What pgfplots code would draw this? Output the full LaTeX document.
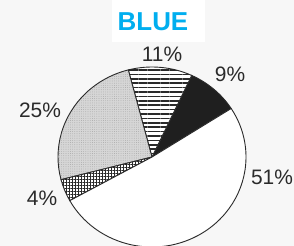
\documentclass[border=0pt]{standalone}
\usepackage{pgfplots}
\pgfplotsset{compat=1.18}
\usetikzlibrary{patterns,patterns.meta}
\usepackage{fontspec}
\setmainfont{Liberation Sans}
\definecolor{titleblue}{HTML}{00AEEF}
\definecolor{ink}{HTML}{2A2A2A}
% slice values (percent), counter-clockwise from the 51% / 9% boundary
\def\vBlack{9}\def\vLines{11}\def\vStip{25}\def\vGrid{4}\def\vWhite{51}
\pgfmathsetmacro\aA{32.6}
\pgfmathsetmacro\aB{\aA+3.6*\vBlack}
\pgfmathsetmacro\aC{\aB+3.6*\vLines}
\pgfmathsetmacro\aD{\aC+3.6*\vStip}
\pgfmathsetmacro\aE{\aD+3.6*\vGrid}
\pgfmathsetmacro\aF{\aE+3.6*\vWhite}
\newcommand\slice[3]{\path[#3] (axis cs:0,0) -- ++(#1:94bp and 90bp) arc[start angle=#1, end angle=#2, x radius=94bp, y radius=90bp] -- cycle;}
\begin{document}
\begin{tikzpicture}
\path[use as bounding box] (0,0) rectangle (294bp,246bp);
\fill[black!3] (0,0) rectangle (294bp,246bp);
\fill[white] (112bp,204bp) rectangle (205bp,246bp);
\clip (0,0) rectangle (294bp,246bp);
\begin{axis}[hide axis, x=1bp, y=1bp, xmin=-100, xmax=100, ymin=-100, ymax=100,
  anchor=origin, at={(152bp,89bp)}, clip=false]
\slice{\aA}{\aB}{fill=black!88, draw=ink, line width=0.9bp}
\slice{\aB}{\aC}{fill=white}
\slice{\aB}{\aC}{pattern={Lines[angle=0, distance=4.4bp, line width=1.6bp]}, pattern color=ink}
\slice{\aB}{\aC}{draw=ink, line width=0.9bp}
\slice{\aC}{\aD}{fill=black!16}
\slice{\aC}{\aD}{pattern={Dots[distance=2.2bp, radius=0.35bp]}, pattern color=black!42}
\slice{\aC}{\aD}{draw=ink, line width=0.9bp}
\slice{\aD}{\aE}{fill=white}
\slice{\aD}{\aE}{pattern={Hatch[angle=0, distance=3bp, line width=1bp]}, pattern color=ink}
\slice{\aD}{\aE}{draw=ink, line width=0.9bp}
\slice{\aE}{\aF}{fill=white, draw=ink, line width=0.9bp}
\node[text=ink, font=\fontsize{21}{21}\selectfont] at (axis cs:10,103) {11\%};
\node[text=ink, font=\fontsize{21}{21}\selectfont] at (axis cs:78,83) {9\%};
\node[text=ink, font=\fontsize{21}{21}\selectfont] at (axis cs:-112,47) {25\%};
\node[text=ink, font=\fontsize{21}{21}\selectfont] at (axis cs:120,-20) {51\%};
\node[text=ink, font=\fontsize{21}{21}\selectfont] at (axis cs:-110,-41) {4\%};
\node[text=titleblue, font=\bfseries\fontsize{26}{26}\selectfont] at (axis cs:1,135) {BLUE};
\end{axis}
\end{tikzpicture}
\end{document}
